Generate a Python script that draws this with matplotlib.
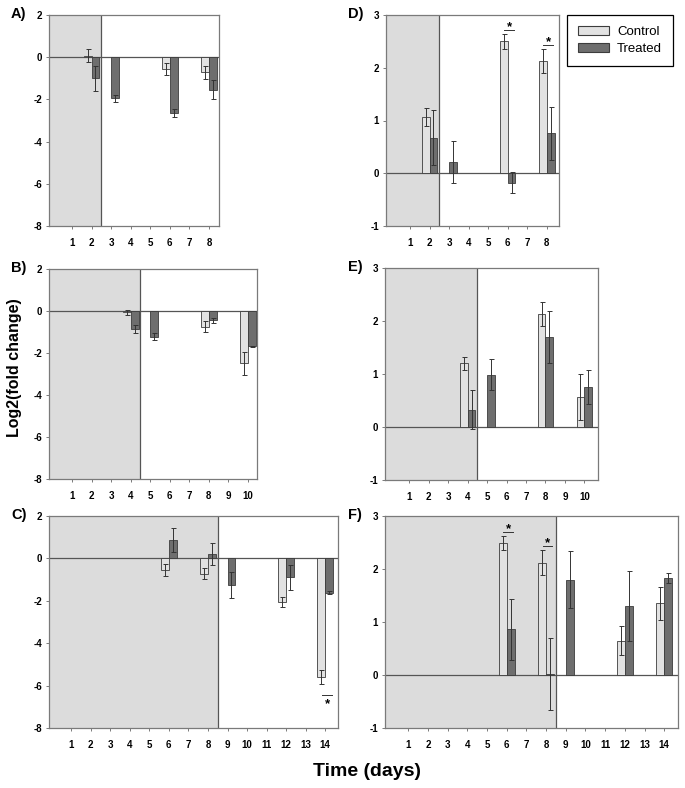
import matplotlib.pyplot as plt
from matplotlib.patches import Rectangle
import numpy as np

plt.rcParams['font.family'] = ['Liberation Sans', 'DejaVu Sans']
plt.rcParams['axes.unicode_minus'] = False

nan = np.nan

# ---- data (log2 fold change, mean +/- error) ----
# A) days 1-8, treatment starts after day 2
days_A = [2, 3, 6, 8]
ctrl_A = [0.08, nan, -0.55, -0.72]
ctrl_err_A = [0.33, nan, 0.27, 0.30]
trt_A = [-1.0, -1.95, -2.65, -1.55]
trt_err_A = [0.6, 0.18, 0.2, 0.45]

# B) days 1-10
days_B = [4, 5, 8, 10]
ctrl_B = [-0.05, nan, -0.74, -2.48]
ctrl_err_B = [0.12, nan, 0.27, 0.55]
trt_B = [-0.85, -1.22, -0.43, -1.68]
trt_err_B = [0.2, 0.15, 0.12, 0.03]

# C) days 1-14
days_C = [6, 8, 9, 12, 14]
ctrl_C = [-0.55, -0.72, nan, -2.05, -5.6]
ctrl_err_C = [0.27, 0.27, nan, 0.25, 0.33]
trt_C = [0.87, 0.2, -1.25, -0.9, -1.62]
trt_err_C = [0.58, 0.53, 0.63, 0.6, 0.07]

# D) days 1-8
days_D = [2, 3, 6, 8]
ctrl_D = [1.07, nan, 2.5, 2.13]
ctrl_err_D = [0.17, nan, 0.14, 0.23]
trt_D = [0.67, 0.21, -0.18, 0.76]
trt_err_D = [0.52, 0.4, 0.2, 0.5]

# E) days 1-10
days_E = [4, 5, 8, 10]
ctrl_E = [1.2, nan, 2.13, 0.57]
ctrl_err_E = [0.13, nan, 0.23, 0.43]
trt_E = [0.33, 0.99, 1.7, 0.75]
trt_err_E = [0.36, 0.3, 0.49, 0.32]

# F) days 1-14
days_F = [6, 8, 9, 12, 14]
ctrl_F = [2.49, 2.12, nan, 0.65, 1.35]
ctrl_err_F = [0.13, 0.23, nan, 0.27, 0.31]
trt_F = [0.86, 0.02, 1.8, 1.31, 1.83]
trt_err_F = [0.57, 0.68, 0.54, 0.66, 0.1]

CTRL_COLOR = '#e2e2e2'
TRT_COLOR = '#6e6e6e'
SHADE = '#dcdcdc'
EDGE = '#3c3c3c'
FRAME = '#7a7a7a'

W, H = 685, 788
fig = plt.figure(figsize=(W / 100, H / 100), dpi=100)


def add_ax(l, t, r, b):
    return fig.add_axes([l / W, 1 - b / H, (r - l) / W, (b - t) / H])


def draw_panel(ax, n_days, days, ctrl, ctrl_err, trt, trt_err, shade_end,
               ylim, yticks, xlim, sig_above=(), sig_below=()):
    days = np.array(days, dtype=float)
    ctrl = np.array(ctrl, dtype=float)
    trt = np.array(trt, dtype=float)
    w = 0.4
    ax.axvspan(xlim[0], shade_end, color=SHADE, zorder=0, lw=0)
    ax.axvline(shade_end, color='#555555', lw=0.9, zorder=1)
    ax.axhline(0, color='#555555', lw=0.9, zorder=1)

    ax.bar(days - w / 2, ctrl, w, color=CTRL_COLOR, edgecolor=EDGE, lw=0.6, zorder=2)
    ax.bar(days + w / 2, trt, w, color=TRT_COLOR, edgecolor=EDGE, lw=0.6, zorder=2)
    ax.errorbar(days - w / 2, ctrl, yerr=ctrl_err, fmt='none', ecolor='#333333',
                elinewidth=0.7, capsize=1.8, capthick=0.7, zorder=3)
    ax.errorbar(days + w / 2, trt, yerr=trt_err, fmt='none', ecolor='#333333',
                elinewidth=0.7, capsize=1.8, capthick=0.7, zorder=3)

    # significance marks (pixel offsets converted to data units)
    px = (ylim[1] - ylim[0]) / 211.0
    for d in sig_above:
        i = list(days).index(d)
        top = max(np.nan_to_num(ctrl[i] + ctrl_err[i], nan=-99), trt[i] + trt_err[i])
        yl = top + 4 * px
        ax.plot([d - 0.18, d + 0.32], [yl, yl], color='#333333', lw=0.7, zorder=4)
        ax.text(d + 0.08, yl + 3 * px, '*', ha='center', va='center',
                fontsize=9.5, fontweight='bold', zorder=4)
    for d in sig_below:
        i = list(days).index(d)
        bot = min(ctrl[i] - ctrl_err[i], trt[i] - trt_err[i])
        yl = bot - 11 * px
        ax.plot([d - 0.15, d + 0.35], [yl, yl], color='#333333', lw=0.7, zorder=4)
        ax.text(d + 0.12, yl - 9 * px, '*', ha='center', va='center',
                fontsize=9.5, fontweight='bold', zorder=4)

    ax.set_xlim(*xlim)
    ax.set_ylim(*ylim)
    ax.set_xticks(range(1, n_days + 1))
    ax.set_xticklabels([str(i) for i in range(1, n_days + 1)])
    ax.set_yticks(yticks)
    ax.set_yticklabels([str(v) for v in yticks])
    ax.tick_params(direction='out', length=2.5, width=0.7, color=FRAME,
                   labelsize=7, pad=2.5)
    ax.tick_params(axis='x', pad=6)
    for lab in ax.get_xticklabels() + ax.get_yticklabels():
        lab.set_fontweight('bold')
    for s in ax.spines.values():
        s.set_color(FRAME)
        s.set_linewidth(0.9)
    return ax


left_ticks = [-8, -6, -4, -2, 0, 2]
right_ticks = [-1, 0, 1, 2, 3]

axA = add_ax(49, 15, 219, 226)
draw_panel(axA, 8, days_A, ctrl_A, ctrl_err_A, trt_A, trt_err_A, 2.5,
           (-8, 2), left_ticks, (-0.17, 8.51))
axB = add_ax(49, 269, 257, 479)
draw_panel(axB, 10, days_B, ctrl_B, ctrl_err_B, trt_B, trt_err_B, 4.5,
           (-8, 2), left_ticks, (-0.18, 10.46))
axC = add_ax(49, 516, 338, 728)
draw_panel(axC, 14, days_C, ctrl_C, ctrl_err_C, trt_C, trt_err_C, 8.5,
           (-8, 2), left_ticks, (-0.13, 14.65), sig_below=[14])
axD = add_ax(386, 15, 559, 226)
draw_panel(axD, 8, days_D, ctrl_D, ctrl_err_D, trt_D, trt_err_D, 2.5,
           (-1, 3), right_ticks, (-0.23, 8.63), sig_above=[6, 8])
axE = add_ax(385, 268, 598, 480)
draw_panel(axE, 10, days_E, ctrl_E, ctrl_err_E, trt_E, trt_err_E, 4.5,
           (-1, 3), right_ticks, (-0.25, 10.7))
axF = add_ax(385, 516, 678, 728)
draw_panel(axF, 14, days_F, ctrl_F, ctrl_err_F, trt_F, trt_err_F, 8.5,
           (-1, 3), right_ticks, (-0.18, 14.7), sig_above=[6, 8])

# panel letters
for lab, x, y in [('A)', 11, 14), ('B)', 11, 268), ('C)', 11, 515),
                  ('D)', 348, 14), ('E)', 348, 267), ('F)', 348, 515)]:
    fig.text(x / W, 1 - y / H, lab, fontsize=10.5, fontweight='bold',
             ha='left', va='center')

fig.text(15 / W, 1 - 368 / H, 'Log2(fold change)', rotation=90, fontsize=11.5,
         fontweight='bold', ha='center', va='center')
fig.text(367 / W, 1 - 771 / H, 'Time (days)', fontsize=14, fontweight='bold',
         ha='center', va='center')

handles = [Rectangle((0, 0), 1, 1, facecolor=CTRL_COLOR, edgecolor=EDGE, lw=0.8),
           Rectangle((0, 0), 1, 1, facecolor=TRT_COLOR, edgecolor=EDGE, lw=0.8)]
leg = fig.legend(handles, ['Control', 'Treated'], loc='upper left',
                 bbox_to_anchor=(567 / W, 1 - 15 / H), fontsize=9.5,
                 fancybox=False, edgecolor='black', framealpha=1,
                 handlelength=2.4, handleheight=0.75, borderpad=0.8,
                 labelspacing=0.35, handletextpad=0.6, borderaxespad=0)
leg.get_frame().set_linewidth(0.9)

fig.savefig('out.png', dpi=100)
